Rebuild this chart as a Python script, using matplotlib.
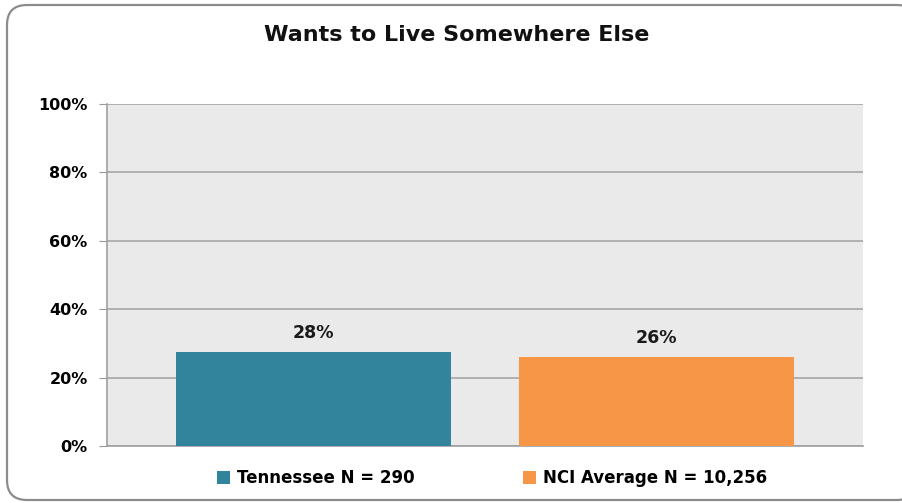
import matplotlib.pyplot as plt
from matplotlib.patches import FancyBboxPatch

# chart data
series = ["Tennessee N = 290", "NCI Average N = 10,256"]
values = [27.5, 26.0]
colors = ["#31849B", "#F79646"]
yticks = [0, 20, 40, 60, 80, 100]

plt.rcParams['font.family'] = ['DejaVu Sans']
plt.rcParams['font.weight'] = 'bold'

fig = plt.figure(figsize=(9.03, 5.03), dpi=100)

# outer rounded frame
frame = FancyBboxPatch((0.07, 0.03), 9.1, 4.95,
                       boxstyle="round,pad=0,rounding_size=0.2",
                       transform=fig.dpi_scale_trans, facecolor="white",
                       edgecolor="#8c8c8c", linewidth=1.6, zorder=-10)
fig.patches.append(frame)

ax = fig.add_axes([107 / 903, 57 / 503, 756 / 903, 342 / 503])
ax.set_facecolor("#EAEAEA")

offsets = [-0.2268, 0.2268]
width = 0.364
for off, v, c, lab in zip(offsets, values, colors, series):
    ax.bar(off, v, width=width, color=c, label=lab, zorder=3)
    ax.text(off, v + 3, f"{round(v)}%", ha="center", va="bottom",
            fontsize=12.5, fontweight="bold", color="#1a1a1a")

ax.set_xlim(-0.5, 0.5)
ax.set_ylim(0, 100)
ax.set_yticks(yticks)
ax.set_yticklabels([f"{t}%" for t in yticks], fontsize=11.5, fontweight="bold")
ax.set_xticks([])
ax.tick_params(axis="y", length=6, color="#999999", pad=8)
ax.grid(axis="y", color="#A6A6A6", linewidth=1.2, zorder=0)
for s in ["top", "right"]:
    ax.spines[s].set_visible(False)
for s in ["left", "bottom"]:
    ax.spines[s].set_color("#A0A0A0")
    ax.spines[s].set_linewidth(1.2)

fig.text(457 / 903, 1 - 35 / 503, "Wants to Live Somewhere Else",
         ha="center", va="center", fontsize=16, fontweight="bold", color="#111111")

fig.legend(loc="center", bbox_to_anchor=(492 / 903, 1 - 478 / 503), ncol=2,
           frameon=False, fontsize=12, handlelength=0.8, handleheight=0.8,
           handletextpad=0.4, columnspacing=6.5)

fig.savefig("out.png", dpi=100)
